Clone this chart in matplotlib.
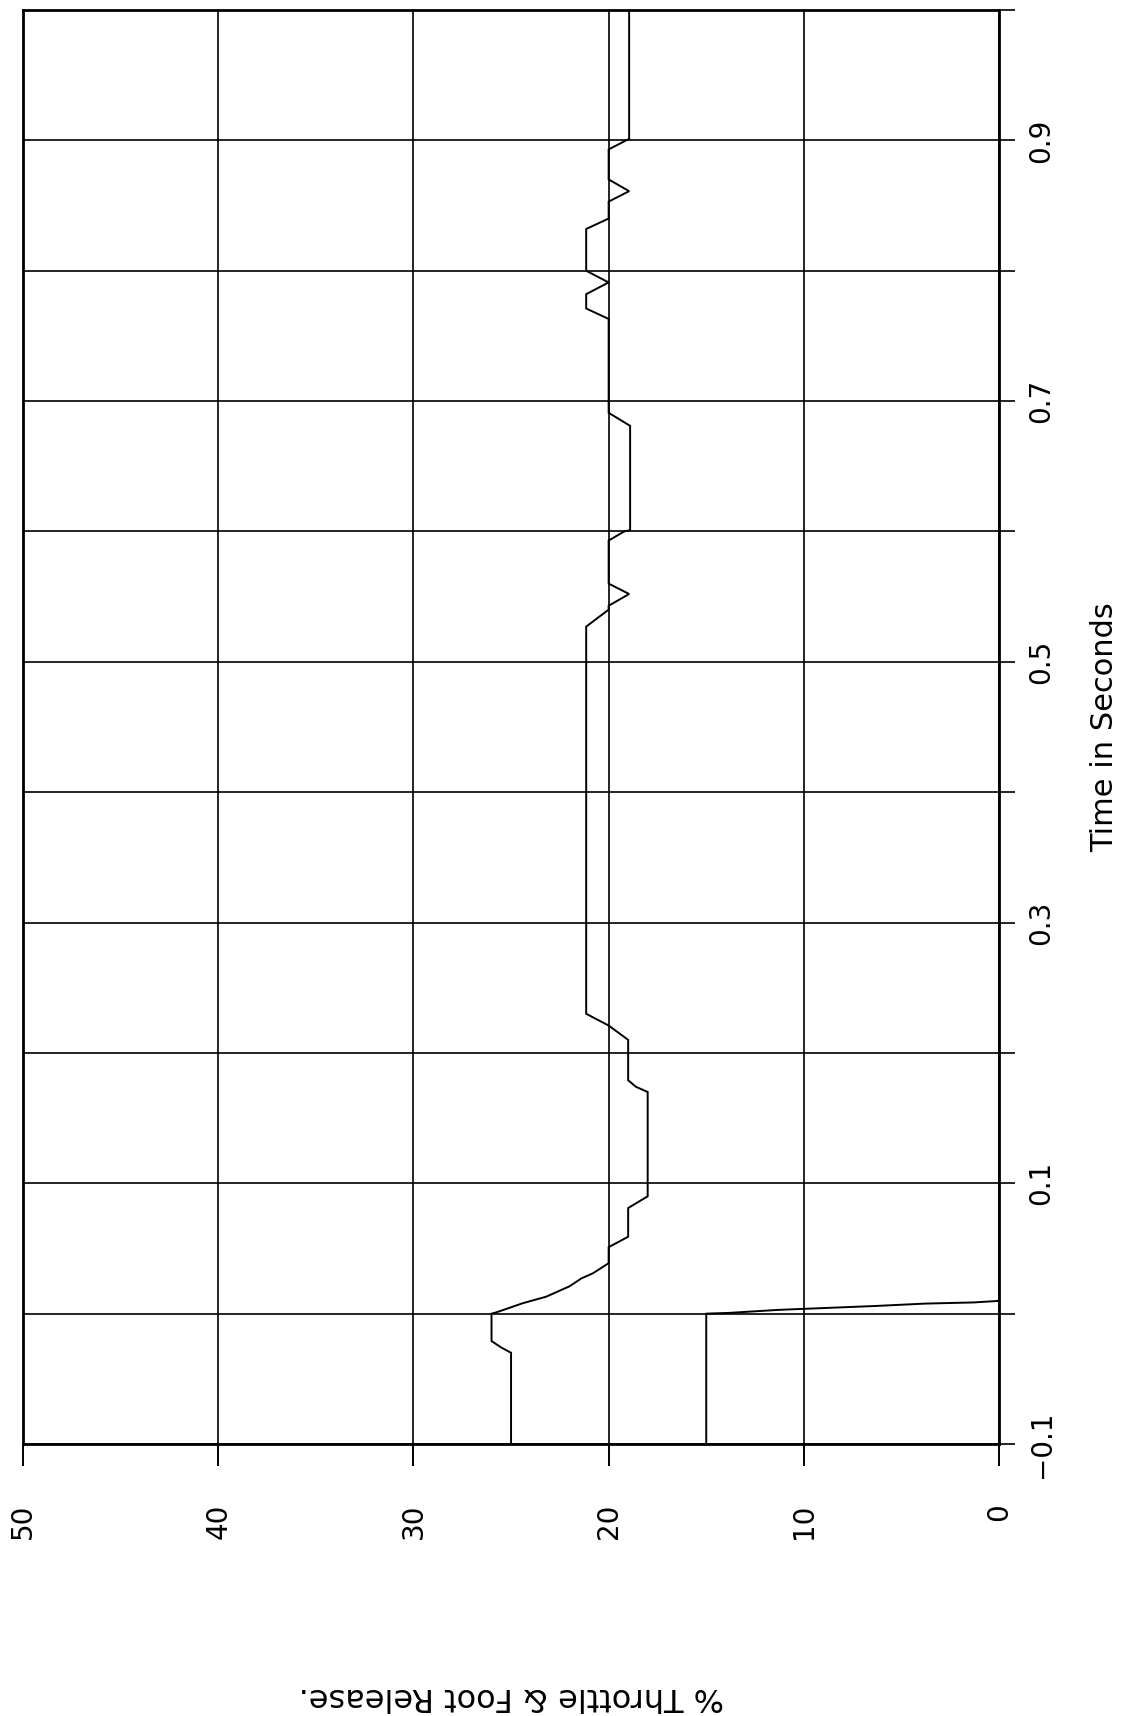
import matplotlib
matplotlib.use("Agg")
import matplotlib.pyplot as plt

# ---- data ----
# Throttle trace: time (s) and percent
time_a = [-0.100, -0.030, -0.026, -0.021, 0.000, 0.001, 0.008, 0.013, 0.021,
          0.027, 0.031, 0.0387, 0.051, 0.059, 0.081, 0.090, 0.170, 0.174,
          0.179, 0.210, 0.221, 0.230, 0.527, 0.540, 0.543, 0.552, 0.560,
          0.593, 0.600, 0.601, 0.681, 0.691, 0.763, 0.771, 0.782, 0.791,
          0.798, 0.800, 0.832, 0.840, 0.853, 0.861, 0.870, 0.893, 0.900,
          0.901, 1.000]
throttle = [25.0, 25.0, 25.5, 26.0, 26.0, 25.75, 24.4, 23.2, 22.0,
            21.4, 20.8, 20.0, 20.0, 19.0, 19.0, 18.0, 18.0, 18.6,
            19.0, 19.0, 20.0, 21.15, 21.15, 20.0, 20.0, 18.95, 20.0,
            20.0, 19.2, 18.9, 18.9, 20.0, 20.0, 21.15, 21.15, 20.0,
            20.9, 21.15, 21.15, 20.0, 20.0, 18.95, 20.0, 20.0, 19.1,
            18.95, 18.95]

# Foot release trace
time_b = [-0.100, 0.000, 0.0006, 0.0029, 0.0044, 0.0059, 0.0077, 0.0086,
          0.0098, 1.000]
foot = [15.0, 15.0, 13.8, 11.3, 8.8, 6.3, 3.8, 1.3, 0.0, 0.0]

time_ticks = [-0.1, 0.0, 0.1, 0.2, 0.3, 0.4, 0.5, 0.6, 0.7, 0.8, 0.9, 1.0]
time_tick_labels = ["\u22120.1", "", "0.1", "", "0.3", "", "0.5", "",
                    "0.7", "", "0.9", ""]
pct_ticks = [0, 10, 20, 30, 40, 50]
pct_tick_labels = ["0", "10", "20", "30", "40", "50"]

# ---- figure ----
fig = plt.figure(figsize=(11.29, 17.16), dpi=100)
ax = fig.add_axes([0.0204, 0.1585, 0.8645, 0.8357])

ax.plot(throttle, time_a, color="black", lw=1.4, solid_joinstyle="miter")
ax.plot(foot, time_b, color="black", lw=1.4, solid_joinstyle="miter")

ax.set_xlim(50, 0)
ax.set_ylim(-0.1, 1.0)

ax.set_xticks(pct_ticks)
ax.set_xticklabels(pct_tick_labels, rotation=90)
ax.yaxis.tick_right()
ax.set_yticks(time_ticks)
ax.set_yticklabels(time_tick_labels, rotation=90, va="center")

ax.grid(True, color="black", lw=1.2)
ax.set_axisbelow(True)

ax.tick_params(axis="x", length=16, width=1.4, pad=27, labelsize=20,
               colors="black")
ax.tick_params(axis="y", length=11.5, width=1.2, pad=9, labelsize=20,
               right=True, left=False, colors="black")

for s in ax.spines.values():
    s.set_linewidth(2.0)
    s.set_color("black")

ax.set_xlabel("% Throttle & Foot Release.", fontsize=23, rotation=180,
              ha="center", va="center")
ax.xaxis.set_label_coords(0.5, -0.176)

ax.yaxis.set_label_position("right")
ax.set_ylabel("Time in Seconds", fontsize=22, rotation=90,
              ha="center", va="center")
ax.yaxis.set_label_coords(1.108, 0.5)

fig.savefig("out.png", dpi=100, facecolor="white")
